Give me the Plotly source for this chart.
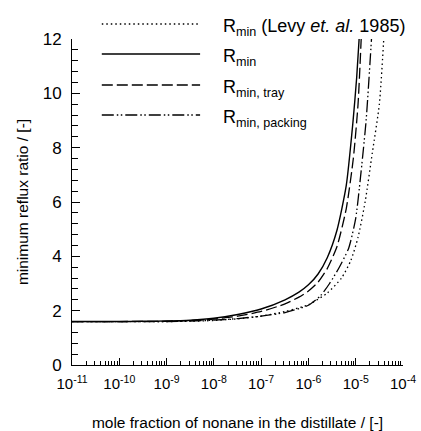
import plotly.graph_objects as go

# ---- data ----
x_levy = [1e-11, 1e-10, 1e-9, 3.2e-9, 1e-8, 3.2e-8, 1e-7, 3.2e-7, 1e-6, 2.5e-6, 5e-6, 7.9e-6, 1.12e-5, 1.58e-5, 2.24e-5, 3.16e-5, 3.98e-5]
y_levy = [1.60, 1.60, 1.60, 1.61, 1.64, 1.70, 1.80, 1.97, 2.22, 2.65, 3.2, 3.85, 4.7, 6.0, 7.8, 9.6, 12.2]

x_rmin = [1e-11, 1e-10, 3.2e-10, 1e-9, 3.2e-9, 1e-8, 3.2e-8, 1e-7, 3.2e-7, 6.3e-7, 1e-6, 1.6e-6, 2.5e-6, 4e-6, 6.3e-6, 8.7e-6, 1.05e-5, 1.2e-5]
y_rmin = [1.60, 1.60, 1.61, 1.62, 1.65, 1.72, 1.86, 2.06, 2.40, 2.68, 2.95, 3.35, 3.95, 4.95, 6.6, 8.9, 10.6, 12.2]

x_tray = [1e-11, 1e-10, 1e-9, 3.2e-9, 1e-8, 3.2e-8, 1e-7, 3.2e-7, 6.3e-7, 1e-6, 1.6e-6, 2.5e-6, 4e-6, 6.3e-6, 8.9e-6, 1.12e-5, 1.32e-5]
y_tray = [1.60, 1.60, 1.61, 1.64, 1.69, 1.80, 1.97, 2.25, 2.50, 2.72, 3.05, 3.55, 4.35, 5.75, 7.6, 9.6, 12.2]

x_pack = [1e-11, 1e-10, 1e-9, 3.2e-9, 1e-8, 3.2e-8, 1e-7, 3.2e-7, 1e-6, 1.8e-6, 2.8e-6, 4.5e-6, 7.1e-6, 1e-5, 1.26e-5, 1.66e-5, 2.19e-5]
y_pack = [1.60, 1.60, 1.60, 1.62, 1.65, 1.71, 1.80, 1.93, 2.20, 2.55, 3.0, 3.6, 4.3, 5.4, 6.9, 9.0, 12.2]

x_tickvals = [1e-11, 1e-10, 1e-9, 1e-8, 1e-7, 1e-6, 1e-5, 1e-4]
x_ticktext = ["10<sup>-11</sup>", "10<sup>-10</sup>", "10<sup>-9</sup>", "10<sup>-8</sup>",
              "10<sup>-7</sup>", "10<sup>-6</sup>", "10<sup>-5</sup>", "10<sup>-4</sup>"]

legend_labels = [
    "R<sub>min</sub> (Levy <i>et. al.</i> 1985)",
    "R<sub>min</sub>",
    "R<sub>min, tray</sub>",
    "R<sub>min, packing</sub>",
]

FONT = "Liberation Sans, Arial, sans-serif"
DOT = "1.5px,3px"
DASH = "11px,4px"
DASHDOT = "12px,3px,1.5px,2.5px,1.5px,3px"
SOLID = "solid"

series = [
    (x_levy, y_levy, DOT, 1.3),
    (x_rmin, y_rmin, SOLID, 1.4),
    (x_tray, y_tray, DASH, 1.3),
    (x_pack, y_pack, DASHDOT, 1.3),
]

fig = go.Figure()
for (xs, ys, dash, w), name in zip(series, legend_labels):
    fig.add_trace(go.Scatter(
        x=xs, y=ys, mode="lines", name=name, showlegend=False,
        line=dict(color="black", width=w, dash=dash, shape="spline", smoothing=0.6),
    ))

# manual legend (long line samples like the reference)
leg_y = [1.046, 0.954, 0.859, 0.767]
shapes = []
annotations = []
for (xs, ys, dash, w), name, ly in zip(series, legend_labels, leg_y):
    shapes.append(dict(type="line", xref="paper", yref="paper",
                       x0=0.09, x1=0.387, y0=ly, y1=ly,
                       line=dict(color="black", width=w + 0.2, dash=dash)))
    annotations.append(dict(xref="paper", yref="paper", x=0.45, y=ly - 0.01,
                            xanchor="left", yanchor="middle", showarrow=False,
                            text=name, font=dict(family=FONT, size=18, color="black")))

fig.update_layout(
    width=421, height=431,
    margin=dict(l=72, r=18, t=39, b=66),
    paper_bgcolor="white", plot_bgcolor="white",
    font=dict(family=FONT, color="black"),
    shapes=shapes, annotations=annotations,
)

fig.update_xaxes(
    type="log", range=[-11, -4], automargin=False,
    tickvals=x_tickvals, ticktext=x_ticktext,
    ticks="inside", ticklen=7, tickwidth=1, tickcolor="black",
    minor=dict(ticks="inside", ticklen=4, tickwidth=1, tickcolor="black", dtick="D1", showgrid=False),
    showline=True, linecolor="black", linewidth=1, mirror=False,
    showgrid=False, zeroline=False,
    tickfont=dict(family=FONT, size=15, color="black"),
    ticklabelstandoff=5,
    title=dict(text="mole fraction of nonane in the distillate / [-]",
               font=dict(family=FONT, size=15.5, color="black"), standoff=27),
)
fig.update_yaxes(
    range=[0, 12], dtick=2, tick0=0, automargin=False,
    ticks="inside", ticklen=8, tickwidth=1, tickcolor="black",
    minor=dict(ticks="inside", ticklen=6, tickwidth=1, tickcolor="black", dtick=0.4, showgrid=False),
    showline=True, linecolor="black", linewidth=1, mirror=False,
    showgrid=False, zeroline=False,
    tickfont=dict(family=FONT, size=17, color="black"),
    ticklabelstandoff=6,
    title=dict(text="minimum reflux ratio / [-]",
               font=dict(family=FONT, size=15.5, color="black"), standoff=10),
)

fig.write_html("out.html")
